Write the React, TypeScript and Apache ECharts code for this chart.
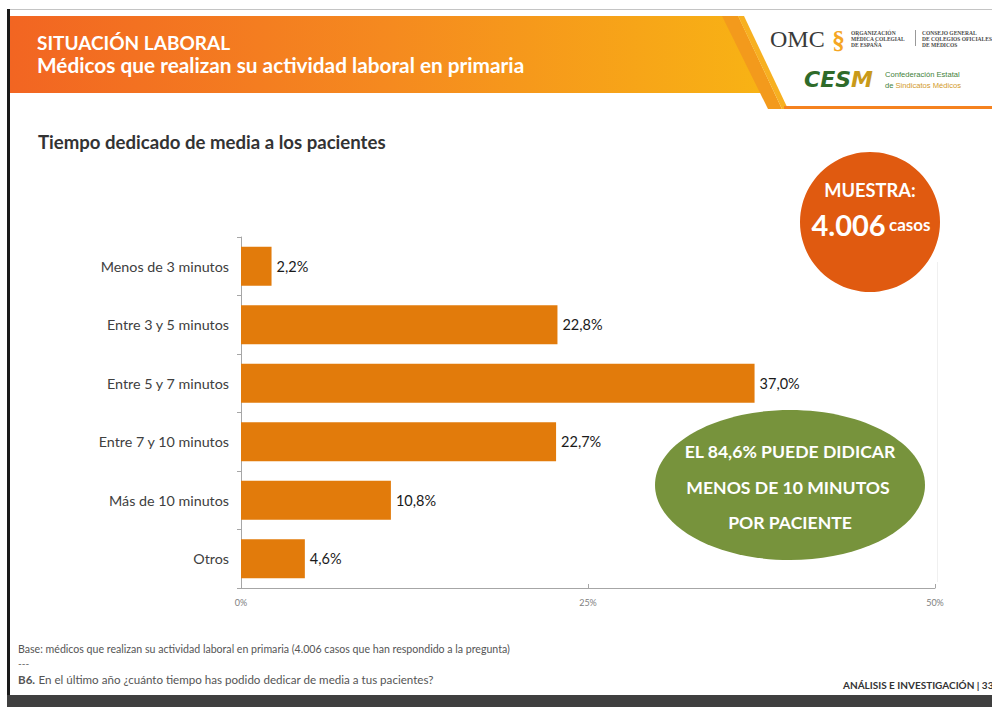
import React, { useEffect, useRef } from "react";
import * as echarts from "echarts";

const categories = [
  "Menos de 3 minutos",
  "Entre 3 y 5 minutos",
  "Entre 5 y 7 minutos",
  "Entre 7 y 10 minutos",
  "Más de 10 minutos",
  "Otros",
];
const values = [2.2, 22.8, 37.0, 22.7, 10.8, 4.6];
const axisTicks = [0, 25, 50];

const FONT = "Lato, 'Open Sans', sans-serif";

export default function App() {
  const ref = useRef<HTMLDivElement>(null);
  useEffect(() => {
    if (!ref.current) return;
    const chart = echarts.init(ref.current, undefined, { renderer: "svg" });
    const white = "#ffffff";
    const option: any = {
      animation: false,
      backgroundColor: "#ffffff",
      textStyle: { fontFamily: FONT },
      grid: { left: 241, right: 57, top: 237, bottom: 119, containLabel: false },
      xAxis: {
        type: "value",
        min: axisTicks[0],
        max: axisTicks[axisTicks.length - 1],
        interval: 25,
        axisLine: { show: true, lineStyle: { color: "#a6a6a6", width: 1 } },
        axisTick: { show: true, inside: true, length: 4, lineStyle: { color: "#a6a6a6" } },
        splitLine: { show: false },
        axisLabel: {
          formatter: "{value}%",
          fontSize: 9,
          color: "#808080",
          margin: 10,
          fontFamily: FONT,
        },
      },
      yAxis: {
        type: "category",
        inverse: true,
        data: categories,
        axisLine: { show: true, lineStyle: { color: "#a6a6a6", width: 1 } },
        axisTick: { show: true, length: 4, lineStyle: { color: "#a6a6a6" } },
        axisLabel: { fontSize: 14.3, color: "#404040", margin: 12, fontFamily: FONT },
      },
      series: [
        {
          type: "bar",
          data: values,
          barWidth: 39,
          itemStyle: { color: "#E27B0B" },
          label: {
            show: true,
            position: "right",
            distance: 5,
            fontSize: 14.5,
            color: "#1a1a1a",
            fontFamily: FONT,
            formatter: (p: any) => p.value.toFixed(1).replace(".", ",") + "%",
          },
        },
      ],
      graphic: [
        { type: "rect", shape: { x: 8, y: 9, width: 984, height: 1 }, style: { fill: "#c4c4c4" }, silent: true },
        { type: "rect", shape: { x: 7, y: 9, width: 3, height: 698 }, style: { fill: "#1a1a1a" }, silent: true },
        { type: "rect", shape: { x: 7, y: 695, width: 985, height: 12 }, style: { fill: "#3f3f3f" }, silent: true },
        {
          type: "polygon",
          shape: { points: [[10, 16], [738, 16], [774, 93], [10, 93]] },
          style: {
            fill: new echarts.graphic.LinearGradient(0, 0, 1, 0, [
              { offset: 0, color: "#F26522" },
              { offset: 0.5, color: "#F58A1F" },
              { offset: 1, color: "#F8B414" },
            ]),
          },
          silent: true,
        },
        {
          type: "polygon",
          shape: { points: [[722, 16], [738, 16], [782, 109], [768, 109]] },
          style: { fill: "#F39A1C" },
          silent: true,
        },
        {
          type: "polygon",
          shape: { points: [[738, 16], [744, 16], [788, 109], [782, 109]] },
          style: { fill: "#F7B021" },
          silent: true,
        },
        { type: "rect", shape: { x: 784, y: 106, width: 208, height: 3 }, style: { fill: "#F5821F" }, silent: true },
        {
          type: "text",
          x: 37,
          y: 42,
          style: { text: "SITUACIÓN LABORAL", fill: white, font: `bold 19px ${FONT}`, lineHeight: 19, verticalAlign: "middle" },
        },
        {
          type: "text",
          x: 37,
          y: 64.5,
          style: {
            text: "Médicos que realizan su actividad laboral en primaria",
            fill: white,
            font: `bold 20.8px ${FONT}`,
            lineHeight: 21,
            verticalAlign: "middle",
          },
        },
        {
          type: "text",
          x: 770,
          y: 39,
          style: { text: "OMC", fill: "#3a3a3a", font: `24px 'Liberation Serif', serif`, verticalAlign: "middle" },
        },
        {
          type: "text",
          x: 832,
          y: 40,
          style: { text: "§", fill: "#F5A623", font: `bold 26px 'Liberation Serif', serif`, verticalAlign: "middle" },
        },
        {
          type: "text",
          x: 851,
          y: 39,
          style: {
            text: "ORGANIZACIÓN\nMÉDICA COLEGIAL\nDE ESPAÑA",
            fill: "#4a4a4a",
            font: `bold 5.5px 'Liberation Serif', serif`,
            lineHeight: 6,
            verticalAlign: "middle",
          },
        },
        { type: "rect", shape: { x: 915, y: 30, width: 1, height: 16 }, style: { fill: "#999" }, silent: true },
        {
          type: "text",
          x: 922,
          y: 39,
          style: {
            text: "CONSEJO GENERAL\nDE COLEGIOS OFICIALES\nDE MÉDICOS",
            fill: "#4a4a4a",
            font: `bold 5.5px 'Liberation Serif', serif`,
            lineHeight: 6,
            verticalAlign: "middle",
          },
        },
        {
          type: "text",
          x: 804,
          y: 79,
          style: {
            text: "{g|CES}{o|M}",
            verticalAlign: "middle",
            rich: {
              g: { fill: "#2F6B2A", font: `italic 900 22px 'DejaVu Sans', sans-serif` },
              o: { fill: "#C99A1A", font: `italic 900 22px 'DejaVu Sans', sans-serif` },
            },
          },
        },
        {
          type: "text",
          x: 885,
          y: 74,
          style: { text: "Confederación Estatal", fill: "#3F7F3A", font: `7.6px 'Liberation Sans', sans-serif`, verticalAlign: "middle" },
        },
        {
          type: "text",
          x: 885,
          y: 85,
          style: {
            text: "{g|de }{o|Sindicatos Médicos}",
            verticalAlign: "middle",
            rich: {
              g: { fill: "#3F7F3A", font: `7.6px 'Liberation Sans', sans-serif` },
              o: { fill: "#D29A2A", font: `7.6px 'Liberation Sans', sans-serif` },
            },
          },
        },
        {
          type: "text",
          x: 38,
          y: 142,
          style: {
            text: "Tiempo dedicado de media a los pacientes",
            fill: "#333333",
            font: `bold 18.6px ${FONT}`,
            verticalAlign: "middle",
          },
        },
        { type: "rect", shape: { x: 937, y: 262, width: 1, height: 320 }, style: { fill: "#f0f0f0" }, silent: true },
        { type: "circle", shape: { cx: 870, cy: 222, r: 70 }, style: { fill: "#E05A10" }, silent: true },
        {
          type: "text",
          x: 870,
          y: 190,
          style: { text: "MUESTRA:", fill: white, font: `bold 18.3px ${FONT}`, align: "center", verticalAlign: "middle" },
        },
        {
          type: "text",
          x: 871,
          y: 224,
          style: {
            text: "{a|4.006} {b|casos}",
            align: "center",
            verticalAlign: "middle",
            rich: {
              a: { fill: white, font: `bold 29px ${FONT}` },
              b: { fill: white, font: `bold 17px ${FONT}` },
            },
          },
        },
        { type: "ellipse", shape: { cx: 790, cy: 485, rx: 135, ry: 75 }, style: { fill: "#77933C" }, silent: true },
        {
          type: "text",
          x: 790,
          y: 451,
          style: { text: "EL 84,6% PUEDE DIDICAR", fill: white, font: `bold 17.6px ${FONT}`, align: "center", verticalAlign: "middle" },
        },
        {
          type: "text",
          x: 788,
          y: 487,
          style: { text: "MENOS DE 10 MINUTOS", fill: white, font: `bold 17.6px ${FONT}`, align: "center", verticalAlign: "middle" },
        },
        {
          type: "text",
          x: 790,
          y: 522,
          style: { text: "POR PACIENTE", fill: white, font: `bold 17.6px ${FONT}`, align: "center", verticalAlign: "middle" },
        },
        {
          type: "text",
          x: 18,
          y: 649,
          style: {
            text: "Base: médicos que realizan su actividad laboral en primaria (4.006 casos que han respondido a la pregunta)",
            fill: "#555555",
            font: `10.6px ${FONT}`,
            verticalAlign: "middle",
          },
        },
        {
          type: "text",
          x: 18,
          y: 663,
          style: { text: "---", fill: "#555555", font: `10px ${FONT}`, verticalAlign: "middle" },
        },
        {
          type: "text",
          x: 18,
          y: 679,
          style: {
            text: "{b|B6.} {n|En el último año ¿cuánto tiempo has podido dedicar de media a tus pacientes?}",
            verticalAlign: "middle",
            rich: {
              b: { fill: "#555555", font: `bold 11.6px ${FONT}` },
              n: { fill: "#555555", font: `11.6px ${FONT}` },
            },
          },
        },
        {
          type: "text",
          x: 843,
          y: 685,
          style: { text: "ANÁLISIS E INVESTIGACIÓN | 33", fill: "#333333", font: `bold 10px ${FONT}`, verticalAlign: "middle" },
        },
      ],
    };
    chart.setOption(option);
    return () => chart.dispose();
  }, []);
  return (
    <div
      ref={ref}
      style={{ position: "fixed", left: 0, top: 0, width: 992, height: 707 }}
    />
  );
}
